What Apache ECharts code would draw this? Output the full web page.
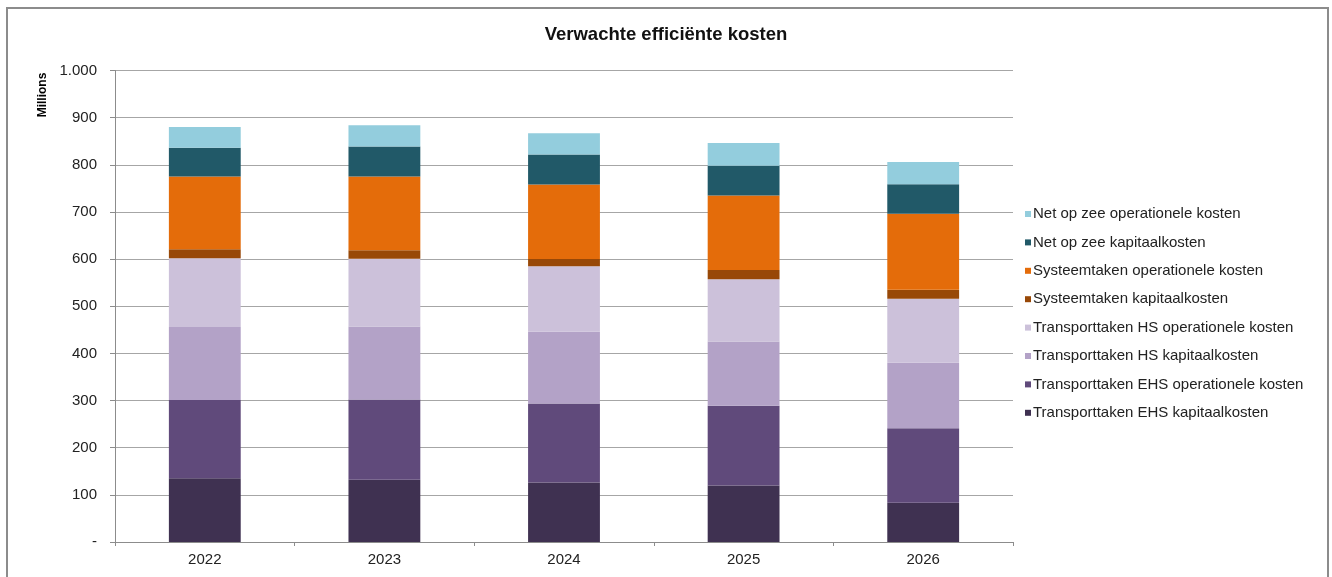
<!DOCTYPE html>
<html>
<head>
<meta charset="utf-8">
<script src="https://cdn.jsdelivr.net/npm/echarts@6/dist/echarts.min.js"></script>
<style>
  html, body { margin: 0; padding: 0; background: #fff; }
  #chart { width: 1332px; height: 577px; }
</style>
</head>
<body>
<div id="chart"></div>
<script>
// Expected efficient costs per year, in millions (stacked bottom to top)
const years = ['2022', '2023', '2024', '2025', '2026'];
const ehsKapitaal = [135, 132, 126, 120, 83];
const ehsOperationeel = [166, 170, 168, 169, 158];
const hsKapitaal = [155, 155, 152, 136, 139];
const hsOperationeel = [146, 144, 139, 132, 136];
const systeemKapitaal = [19, 18, 15, 20, 19];
const systeemOperationeel = [154, 156, 158, 158, 161];
const zeeKapitaal = [61, 64, 64, 63, 63];
const zeeOperationeel = [44, 45, 45, 48, 47];

const seriesDefs = [
  { name: 'Transporttaken EHS kapitaalkosten', data: ehsKapitaal, color: '#3f3151' },
  { name: 'Transporttaken EHS operationele kosten', data: ehsOperationeel, color: '#604a7b' },
  { name: 'Transporttaken HS kapitaalkosten', data: hsKapitaal, color: '#b3a2c7' },
  { name: 'Transporttaken HS operationele kosten', data: hsOperationeel, color: '#ccc1da' },
  { name: 'Systeemtaken kapitaalkosten', data: systeemKapitaal, color: '#984807' },
  { name: 'Systeemtaken operationele kosten', data: systeemOperationeel, color: '#e46c0a' },
  { name: 'Net op zee kapitaalkosten', data: zeeKapitaal, color: '#215968' },
  { name: 'Net op zee operationele kosten', data: zeeOperationeel, color: '#93cddd' }
];

const font = '"Liberation Sans", Arial, sans-serif';
const chart = echarts.init(document.getElementById('chart'), null, { renderer: 'canvas' });

chart.setOption({
  animation: false,
  backgroundColor: '#ffffff',
  title: {
    text: 'Verwachte efficiënte kosten',
    left: 'center',
    top: 24,
    padding: 0,
    textStyle: { fontFamily: font, fontSize: 18.5, fontWeight: 'bold', color: '#111', lineHeight: 22 }
  },
  graphic: [
    {
      type: 'rect',
      shape: { x: 7, y: 8, width: 1321, height: 600 },
      style: { fill: 'none', stroke: '#8c8c8c', lineWidth: 2 },
      silent: true
    },
    {
      type: 'text',
      x: 43, y: 95,
      rotation: Math.PI / 2,
      style: {
        text: 'Millions',
        font: 'bold 12px ' + font,
        fill: '#000',
        align: 'center',
        verticalAlign: 'middle'
      }
    }
  ],
  legend: {
    orient: 'vertical',
    left: 1025,
    top: 206,
    padding: 0,
    itemWidth: 6,
    itemHeight: 6,
    itemGap: 12.4,
    icon: 'rect',
    data: seriesDefs.map(s => s.name).reverse(),
    textStyle: { fontFamily: font, fontSize: 15, color: '#222', padding: [0, 0, 0, -3], lineHeight: 16 }
  },
  grid: { left: 115, right: 319, top: 70.5, bottom: 35, containLabel: false },
  xAxis: {
    type: 'category',
    data: years,
    axisLine: { lineStyle: { color: '#8c8c8c', width: 1 } },
    axisTick: { show: true, length: 4, lineStyle: { color: '#8c8c8c' } },
    axisLabel: { fontFamily: font, fontSize: 15, color: '#222', margin: 10 }
  },
  yAxis: {
    type: 'value',
    min: 0,
    max: 1000,
    interval: 100,
    axisLine: { show: true, lineStyle: { color: '#8c8c8c', width: 1 } },
    axisTick: { show: true, length: 5, lineStyle: { color: '#8c8c8c' } },
    splitLine: { lineStyle: { color: '#a6a6a6', width: 1 } },
    axisLabel: {
      fontFamily: font,
      fontSize: 15,
      color: '#222',
      margin: 18,
      formatter: v => (v === 0 ? '-' : v >= 1000 ? (v / 1000).toFixed(0) + '.' + String(v % 1000).padStart(3, '0') : String(v))
    }
  },
  series: seriesDefs.map(s => ({
    name: s.name,
    type: 'bar',
    stack: 'kosten',
    barWidth: '40%',
    data: s.data,
    itemStyle: { color: s.color },
    emphasis: { disabled: true }
  }))
});
</script>
</body>
</html>
